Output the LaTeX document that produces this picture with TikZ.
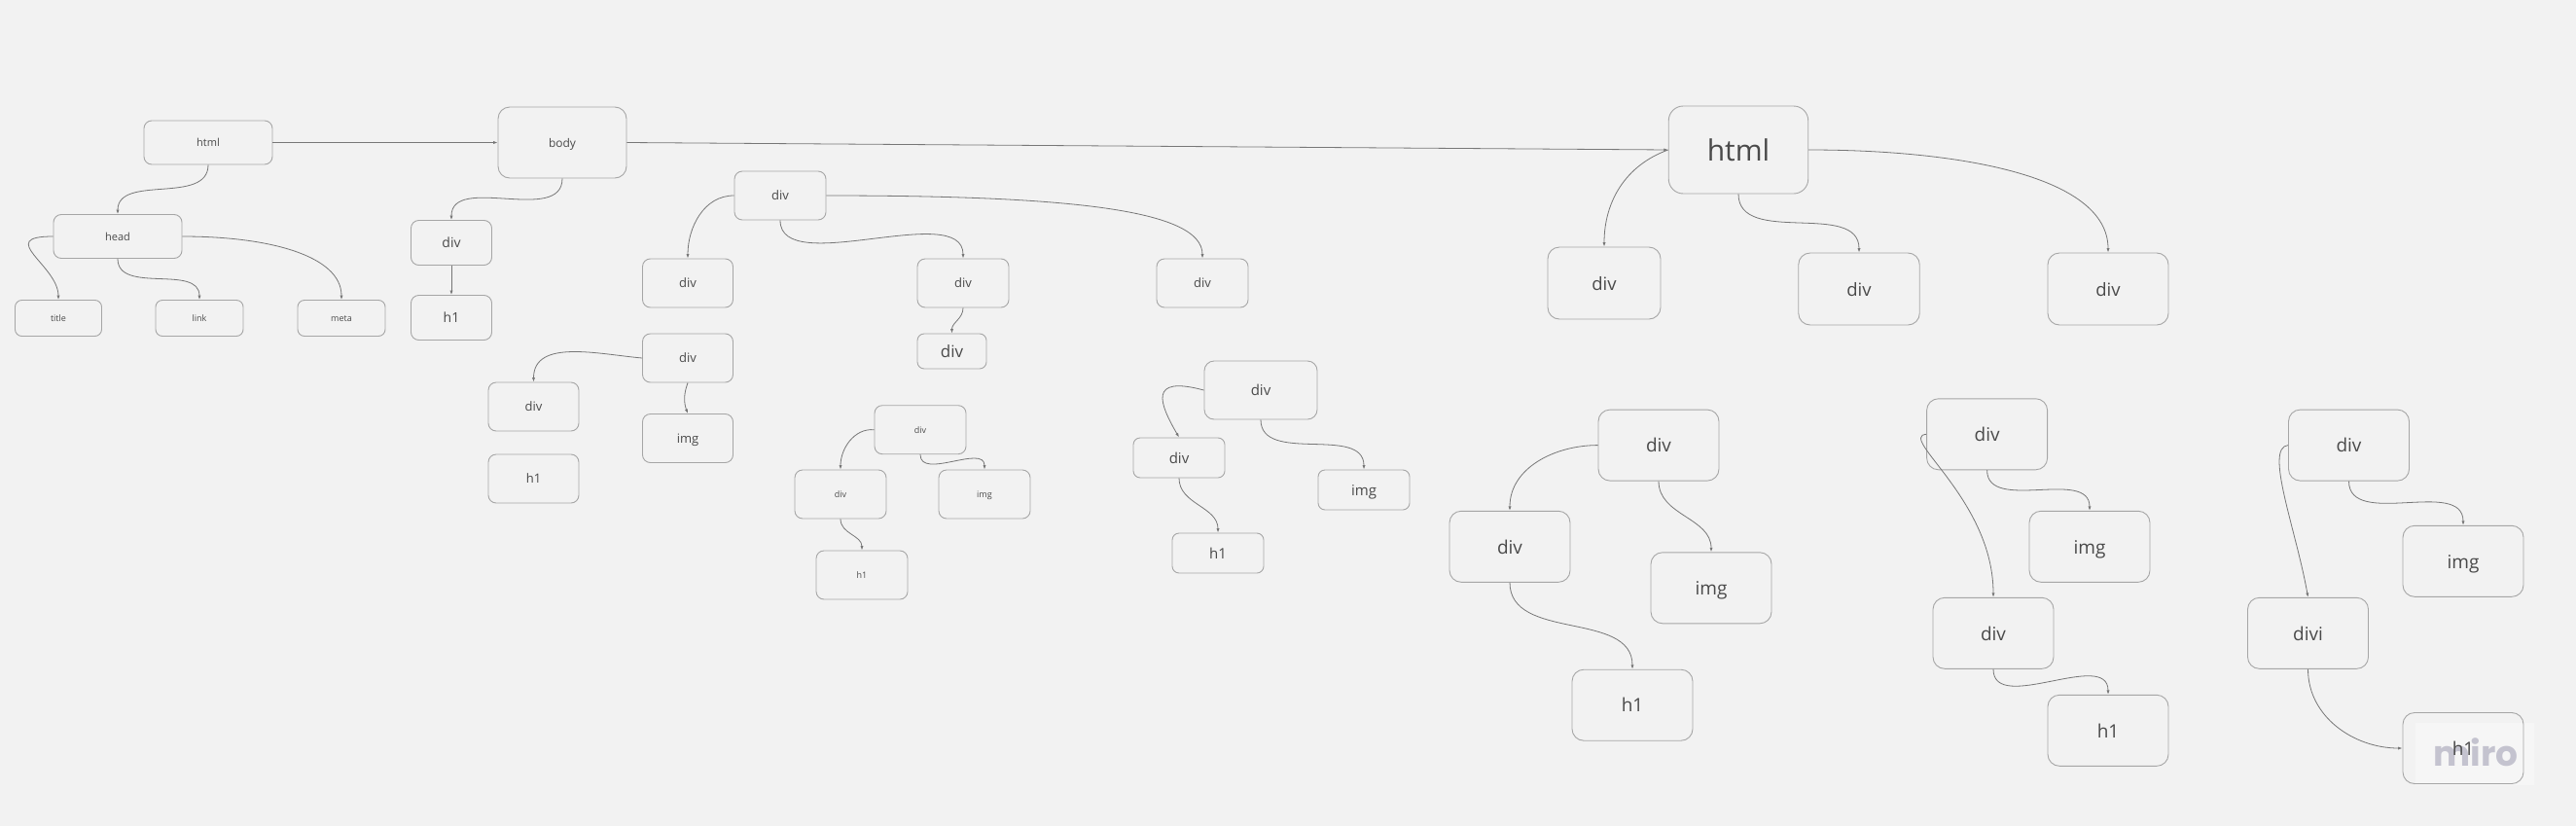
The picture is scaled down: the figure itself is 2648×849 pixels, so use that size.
\documentclass[tikz,border=0pt]{standalone}
\usepackage{fontspec}
\setmainfont{Open Sans}
\newfontfamily\mirofont{Poppins}
\usetikzlibrary{arrows.meta}
\definecolor{bg}{HTML}{F2F2F2}
\definecolor{bord}{HTML}{A6A6A6}
\definecolor{ln}{HTML}{777777}
\definecolor{txt}{HTML}{4A4A4A}
\definecolor{miroc}{HTML}{C4C3CF}
\definecolor{wm}{HTML}{F6F6F6}
\tikzset{
  nd/.style={draw=bord, line width=0.9pt, rounded corners=#1, text=txt, inner sep=0pt},
  nd/.default=8pt,
  fsz/.style={font=\fontsize{#1}{#1}\selectfont, text height=0.76*#1, text depth=0pt},
  ar/.style={draw=ln, line width=0.8pt, -{Latex[length=4.5pt,width=3.2pt]}},
}
\begin{document}
\begin{tikzpicture}[x=1pt,y=1pt]
\fill[bg] (0,0) rectangle (2648,-849);
\useasboundingbox (0,0) rectangle (2648,-849);
% watermark
\fill[wm] (2483,-743) rectangle (2605,-807);
\node[text=miroc, font=\mirofont\bfseries\fontsize{36}{36}\selectfont, anchor=base, inner sep=0pt] (miro) at (2545,-787) {miro};

% group 1
\node[nd, fsz=11, minimum width=132pt, minimum height=45pt] (html1) at (214,-146.5) {html};
\node[nd, fsz=11, minimum width=132pt, minimum height=45pt] (head) at (121,-243) {head};
\node[nd=7pt, fsz=9, minimum width=89pt, minimum height=37pt] (title) at (60,-327) {title};
\node[nd=7pt, fsz=9, minimum width=90pt, minimum height=37pt] (link) at (205,-327) {link};
\node[nd=7pt, fsz=9, minimum width=90pt, minimum height=37pt] (meta) at (351,-327) {meta};
\node[nd=12pt, fsz=12, minimum width=132pt, minimum height=73pt] (body) at (578,-146.5) {body};
\node[nd, fsz=14, minimum width=83pt, minimum height=46pt] (d1) at (464,-249.5) {div};
\node[nd, fsz=14, minimum width=83pt, minimum height=46pt] (h1a) at (464,-326.5) {h1};

% group 2
\node[nd, fsz=13, minimum width=94pt, minimum height=50pt] (dA) at (802,-201) {div};
\node[nd, fsz=13, minimum width=93pt, minimum height=50pt] (dB) at (707,-291) {div};
\node[nd, fsz=13, minimum width=94pt, minimum height=50pt] (dC) at (990,-291) {div};
\node[nd, fsz=13, minimum width=94pt, minimum height=50pt] (dD) at (1236,-291) {div};
\node[nd=7pt, fsz=17, minimum width=71pt, minimum height=36pt] (dC2) at (978.5,-361) {div};
\node[nd, fsz=13, minimum width=93pt, minimum height=50pt] (dE) at (707,-368) {div};
\node[nd, fsz=13, minimum width=93pt, minimum height=50pt] (dF) at (548.5,-418) {div};
\node[nd, fsz=13, minimum width=93pt, minimum height=50pt] (imgE) at (707,-450.5) {img};
\node[nd, fsz=13, minimum width=93pt, minimum height=50pt] (h1F) at (548.5,-492) {h1};
\node[nd, fsz=9, minimum width=94pt, minimum height=50pt] (dG) at (946,-441.7) {div};
\node[nd, fsz=9, minimum width=94pt, minimum height=50pt] (dH) at (864,-508) {div};
\node[nd, fsz=9, minimum width=94pt, minimum height=50pt] (imgG) at (1012,-508) {img};
\node[nd, fsz=9, minimum width=94pt, minimum height=50pt] (h1H) at (886,-591) {h1};
\node[nd=10pt, fsz=15, minimum width=116pt, minimum height=60pt] (dI) at (1296,-401) {div};
\node[nd=7pt, fsz=15, minimum width=94pt, minimum height=41pt] (dJ) at (1212,-470.5) {div};
\node[nd=7pt, fsz=15, minimum width=94pt, minimum height=41pt] (imgI) at (1402,-503.5) {img};
\node[nd=7pt, fsz=15, minimum width=94pt, minimum height=41pt] (h1J) at (1252,-568.5) {h1};

% group 3
\node[nd=15pt, fsz=30, minimum width=143.5pt, minimum height=90pt] (H2) at (1787,-154) {html};
\node[nd=12pt, fsz=18.5, minimum width=116pt, minimum height=74pt] (dM) at (1649,-291) {div};
\node[nd=12pt, fsz=18.5, minimum width=124.5pt, minimum height=74pt] (dN) at (1911,-297) {div};
\node[nd=12pt, fsz=18.5, minimum width=124pt, minimum height=74pt] (dO) at (2167,-297) {div};

\node[nd=12pt, fsz=19, minimum width=124pt, minimum height=73pt] (dP) at (1705,-457.6) {div};
\node[nd=12pt, fsz=19, minimum width=124pt, minimum height=73pt] (dQ) at (1552,-561.8) {div};
\node[nd=12pt, fsz=19, minimum width=124pt, minimum height=73pt] (imgP) at (1759,-604.3) {img};
\node[nd=12pt, fsz=19, minimum width=124pt, minimum height=73pt] (h1Q) at (1678,-724.7) {h1};

\node[nd=12pt, fsz=19, minimum width=124pt, minimum height=73pt] (dT) at (2042.6,-446.3) {div};
\node[nd=12pt, fsz=19, minimum width=124pt, minimum height=73pt] (imgT) at (2148,-561.8) {img};
\node[nd=12pt, fsz=19, minimum width=124pt, minimum height=73pt] (dV) at (2049,-650.8) {div};
\node[nd=12pt, fsz=19, minimum width=124pt, minimum height=73pt] (h1V) at (2167,-750.8) {h1};

\node[nd=12pt, fsz=19, minimum width=124pt, minimum height=73pt] (dX) at (2414.5,-457.6) {div};
\node[nd=12pt, fsz=19, minimum width=124pt, minimum height=73pt] (imgX) at (2532,-576.8) {img};
\node[nd=12pt, fsz=19, minimum width=124pt, minimum height=73pt] (dZ) at (2372.5,-650.8) {divi};
\node[nd=12pt, fsz=19, minimum width=124pt, minimum height=73pt] (h1Z) at (2532,-769) {h1};

% connectors
\draw[ar] (html1.east) -- (body.west);
\draw[ar] (body.east) -- (H2.west);
\draw[ar] (html1.south) to[out=-90,in=90] (head.north);
\draw[ar] (head.west) to[out=180,in=90,out distance=60pt,in distance=35pt] (title.north);
\draw[ar] (head.south) to[out=-90,in=90] (link.north);
\draw[ar] (head.east) to[out=0,in=90,out distance=90pt,in distance=45pt] (meta.north);
\draw[ar] (body.south) to[out=-90,in=90] (d1.north);
\draw[ar] (d1.south) -- (h1a.north);

\draw[ar] (dA.west) to[out=180,in=90] (dB.north);
\draw[ar] (dA.south) to[out=-90,in=90,out distance=60pt,in distance=60pt] (dC.north);
\draw[ar] (dA.east) to[out=0,in=90,out distance=250pt,in distance=50pt] (dD.north);
\draw[ar] (dC.south) to[out=-90,in=90] (dC2.north);
\draw[ar] (dE.west) to[out=175,in=90] (dF.north);
\draw[ar] (dE.south) to[out=-110,in=110] (imgE.north);
\draw[ar] (dG.west) to[out=175,in=90] (dH.north);
\draw[ar] (dG.south) to[out=-90,in=90] (imgG.north);
\draw[ar] (dH.south) to[out=-90,in=90] (h1H.north);
\draw[ar] (dI.west) to[out=165,in=120,out distance=60pt,in distance=40pt] (dJ.north);
\draw[ar] (dI.south) to[out=-90,in=90] (imgI.north);
\draw[ar] (dJ.south) to[out=-90,in=90] (h1J.north);

\draw[ar] (H2.west) to[out=200,in=90] (dM.north);
\draw[ar] (H2.south) to[out=-90,in=90] (dN.north);
\draw[ar] (H2.east) to[out=0,in=90,out distance=150pt,in distance=80pt] (dO.north);

\draw[ar] (dP.west) to[out=180,in=90] (dQ.north);
\draw[ar] (dP.south) to[out=-90,in=90] (imgP.north);
\draw[ar] (dQ.south) to[out=-90,in=90] (h1Q.north);
\draw[ar] (dT.west) to[out=185,in=90,out distance=30pt,in distance=100pt] (dV.north);
\draw[ar] (dT.south) to[out=-90,in=90] (imgT.north);
\draw[ar] (dV.south) to[out=-90,in=90] (h1V.north);
\draw[ar] (dX.west) to[out=185,in=100,out distance=25pt,in distance=70pt] (dZ.north);
\draw[ar] (dX.south) to[out=-90,in=90] (imgX.north);
\draw[ar] (dZ.south) to[out=-90,in=180] (h1Z.west);
\end{tikzpicture}
\end{document}
